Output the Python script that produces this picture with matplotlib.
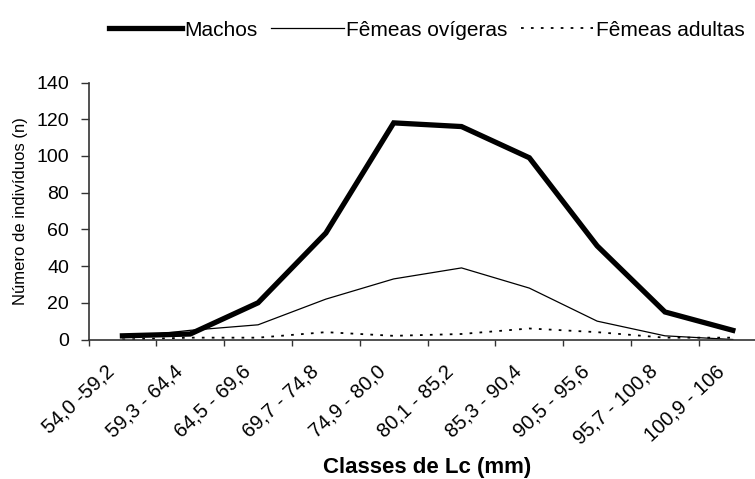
import matplotlib
matplotlib.use("Agg")
import matplotlib.pyplot as plt
from matplotlib.transforms import ScaledTranslation
import numpy as np

plt.rcParams['font.family'] = ['Liberation Sans', 'DejaVu Sans']

classes = ["54,0 -59,2", "59,3 - 64,4", "64,5 - 69,6", "69,7 - 74,8", "74,9 - 80,0",
           "80,1 - 85,2", "85,3 - 90,4", "90,5 - 95,6", "95,7 - 100,8", "100,9 - 106"]
machos = [2, 3, 20, 58, 118, 116, 99, 51, 15, 5]
femeas_ovigeras = [1, 5, 8, 22, 33, 39, 28, 10, 2, 0]
femeas_adultas = [0, 1, 1, 4, 2, 3, 6, 4, 1, 1]
yticks = [0, 20, 40, 60, 80, 100, 120, 140]

fig = plt.figure(figsize=(7.55, 4.79), dpi=100)
ax = fig.add_axes([88.5 / 755, 1 - 339.5 / 479, (766.7 - 88.5) / 755, (339.5 - 82.5) / 479])

x = np.arange(len(classes))
l1, = ax.plot(x, machos, color='black', lw=3.8, solid_joinstyle='miter', label='Machos')
l2, = ax.plot(x, femeas_ovigeras, color='black', lw=0.9, label='Fêmeas ovígeras')
l3, = ax.plot(x, femeas_adultas, color='black', lw=1.3, linestyle=(0, (1.5, 4)),
              label='Fêmeas adultas')

ax.set_xlim(-0.5, len(classes) - 0.5)
ax.set_ylim(0, 140)
ax.set_yticks(yticks)
ax.set_yticklabels([str(v) for v in yticks], fontsize=14)
ax.tick_params(axis='y', direction='out', length=6, width=1, pad=8, color='#333333')

ax.set_xticks(x)
ax.set_xticklabels(classes, fontsize=14.5, rotation=43, ha='right', rotation_mode='anchor')
ax.set_xticks(np.arange(len(classes) + 1) - 0.5, minor=True)
ax.tick_params(axis='x', which='major', length=0, pad=0)
ax.tick_params(axis='x', which='minor', direction='out', length=4, width=1, color='#333333')
for lab in ax.get_xticklabels():
    lab.set_transform(lab.get_transform() + ScaledTranslation(-0.17, -0.22, fig.dpi_scale_trans))

for s in ['top', 'right']:
    ax.spines[s].set_visible(False)
for s in ['left', 'bottom']:
    ax.spines[s].set_color('#333333')
    ax.spines[s].set_linewidth(1.2)

ax.set_ylabel('Número de indivíduos (n)', fontsize=12, labelpad=6)
ax.set_xlabel('Classes de Lc (mm)', fontsize=16, fontweight='bold')
ax.xaxis.set_label_coords(0.5, (339.5 - 457) / 257)

fig.legend(handles=[l1, l2, l3], loc='center', bbox_to_anchor=(0.565, 1 - 30 / 479),
           ncol=3, frameon=False, fontsize=15, handlelength=3.5, handletextpad=0.1,
           columnspacing=0.65)

fig.savefig('out.png', dpi=100, facecolor='white')
